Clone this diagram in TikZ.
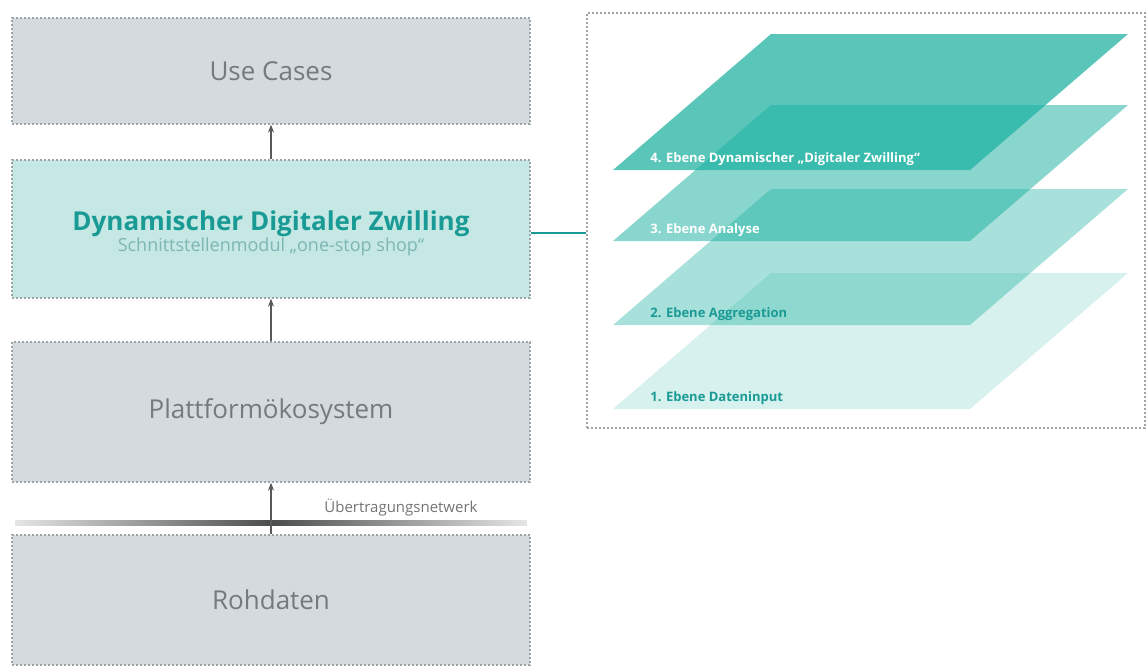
\documentclass[tikz,border=0pt]{standalone}
\usepackage{fontspec}
\setmainfont{Open Sans}
\usetikzlibrary{arrows.meta}

\definecolor{boxgray}{HTML}{D4DADD}
\definecolor{boxteal}{HTML}{C6E8E5}
\definecolor{tealdark}{HTML}{1A9A94}
\definecolor{tealbase}{HTML}{1AB0A0}
\definecolor{subteal}{HTML}{7DB5B2}
\definecolor{txtgray}{HTML}{737B80}
\definecolor{dotgray}{HTML}{9CA3A7}

\begin{document}
\begin{tikzpicture}[
    x=0.5pt, y=-0.5pt,
    blk/.style={rectangle, draw=dotgray, fill=boxgray, line width=0.6pt,
                dash pattern=on 1pt off 1pt, minimum width=259pt,
                inner sep=0pt, align=center, text=txtgray,
                font=\fontsize{13}{16}\selectfont},
    twinblk/.style={blk, fill=boxteal},
    frame/.style={rectangle, draw=dotgray, line width=0.6pt,
                  dash pattern=on 1pt off 1pt, minimum width=279pt,
                  minimum height=207.5pt, inner sep=0pt},
    lbl/.style={anchor=west, inner sep=0pt, font=\fontsize{6.5}{8}\selectfont\bfseries},
    up/.style={-{Stealth[length=4pt,width=3pt]}, line width=0.7pt, draw=black!65}
]
\useasboundingbox (0,0) rectangle (1147,670);

% left column
\node[blk, minimum height=53pt] (uc) at (271,71) {Use Cases};
\node[twinblk, minimum height=69pt] (twin) at (271,229) {};
\node[inner sep=0pt, text=tealdark, font=\fontsize{13}{16}\selectfont\bfseries] (twintitle) at (271,224)
    {Dynamischer Digitaler Zwilling};
\node[inner sep=0pt, text=subteal, font=\fontsize{9}{11}\selectfont] (twinsub) at (271,247)
    {Schnittstellenmodul „one-stop shop“};
\node[blk, minimum height=70pt] (plat) at (271,412) {Plattformökosystem};
\node[blk, minimum height=65pt] (raw) at (271,600) {Rohdaten};

% transmission band
\shade[left color=black!10, right color=black!10, middle color=black!70]
    (15,520) rectangle (527,525);
\node[font=\fontsize{7.5}{9}\selectfont, text=black!55, inner sep=0pt] (net) at (401,508) {Übertragungsnetwerk};

\draw[up] (twin) -- (uc);
\draw[up] (plat) -- (twin);
\draw[up] (raw) -- (plat);

% layer stack
\node[frame] (stack) at (866,220.5) {};
\foreach \i/\yb/\op in {1/409/0.18, 2/325/0.38, 3/241/0.52, 4/170/0.72}
    \fill[tealbase, fill opacity=\op] (613,\yb) -- ++(357,0) -- ++(158,-136) -- ++(-357,0) -- cycle;
\foreach \i/\yb/\col/\txt in {1/409/tealdark/{1. Ebene Dateninput},
                              2/325/tealdark/{2. Ebene Aggregation},
                              3/241/white/{3. Ebene Analyse},
                              4/170/white/{4. Ebene Dynamischer „Digitaler Zwilling“}}
    \path (650,\yb) ++(0,-11) node[lbl, text=\col] (lay\i) {\txt};

\coordinate (link) at (twin.east |- 0,233);
\draw[tealdark, line width=1pt] (link) -- (link -| stack.west);
\end{tikzpicture}
\end{document}
